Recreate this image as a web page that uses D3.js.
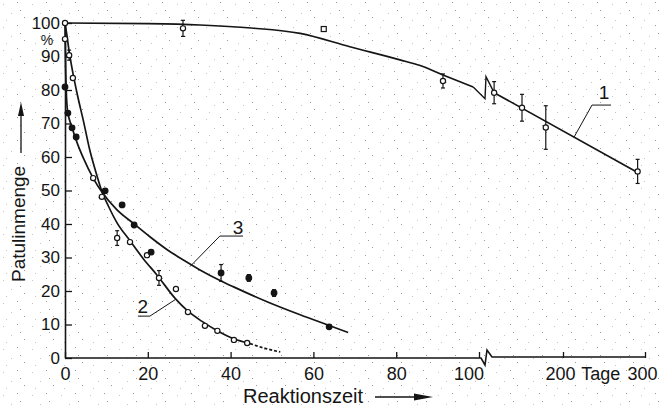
<!DOCTYPE html>
<html>
<head>
<meta charset="utf-8">
<script src="https://cdn.jsdelivr.net/npm/d3@7"></script>
<style>
  body { margin: 0; background: #fff; }
  svg { display: block; font-family: "Liberation Sans", Arial, sans-serif; }
</style>
</head>
<body>
<script>
// curve 1: first part on the 0..100 scale, second part in days after the axis break
var curve1a = [[0,100],[20,99.8],[32.6,99.4],[45,98.5],[56.8,96.9],[68.8,92.9],[80.9,89],[85.8,87.3],[91.3,84.5],[98.6,80.9]];
var curve1b = [[116,79.2],[291,55.4]];
// [x, value, error]
var points1a = [[0,100,0],[28.5,98.4,2.4],[91.3,82.7,2.1]];
var squares1a = [[62.5,98.2]];
var points1b = [[116,79.2,3.3],[150,74.7,4],[179,68.8,6.5],[291,55.7,3.6]];

// curve 2 (open circles)
var curve2 = [[0,100],[0.5,96],[1,91.5],[2,84.5],[3,78.5],[4.5,70.5],[6,62],[7.7,54.5],[9,49.4],[10.5,45.3],[12.5,40.5],[15.7,35],[19,29.5],[22.2,24.8],[26.6,17.8],[29.5,14.2],[33,11],[37,8],[40.6,5.8],[44.7,4.3]];
var curve2dash = [[44.7,4.3],[48,3],[52,1.8]];
var points2 = [[0,95.2,0],[1,90.4,1.5],[1.9,83.6,0],[6.8,53.7,0],[8.9,48.1,0],[12.6,35.8,2.2],[15.7,34.6,0],[19.8,30.7,0],[22.7,23.9,2.2],[26.8,20.6,0],[29.7,13.7,0],[33.8,9.6,0],[36.8,8.1,0],[40.8,5.4,0],[44,4.5,0]];

// curve 3 (filled circles)
var curve3 = [[0,100],[0.1,90],[0.3,80],[0.6,74],[1.7,68.8],[3,64],[4.5,59.5],[6.8,53.7],[9,49.4],[12.5,44.3],[16.5,40.2],[20.5,36.2],[24.6,32.4],[28.5,29.3],[32.6,26.3],[37.7,23],[40.6,21.3],[48.8,16.8],[56.8,12.9],[63.8,9.7],[68.4,7.6]];
var points3 = [[0,80.9,0],[0.7,73.1,0],[1.7,68.7,0],[2.7,66,0],[9.7,49.9,0],[13.8,45.7,0],[16.7,39.7,0],[20.8,31.6,0],[37.7,25.4,2.5],[44.4,23.9,1],[50.5,19.4,1],[63.8,9.3,0]];

var yTicks = d3.range(0, 101, 10);
var xTicks1 = [0, 20, 40, 60, 80];
var xTicks2 = [200, 300];

const width = 659, height = 406;
const ink = '#151515';

const svg = d3.select('body').append('svg').attr('width', width).attr('height', height);

// scanned paper stipple
const pat = svg.append('defs').append('pattern')
  .attr('id', 'stip').attr('width', 29).attr('height', 23).attr('patternUnits', 'userSpaceOnUse');
[[3,4],[17,2],[11,13],[24,17],[6,20],[20,10]].forEach(function(p, i) {
  pat.append('rect').attr('x', p[0]).attr('y', p[1]).attr('width', 1).attr('height', 1)
    .attr('fill', i % 2 ? '#9a9a9a' : '#c4c4c4');
});
svg.append('rect').attr('width', width).attr('height', height).attr('fill', 'url(#stip)');

const y = d3.scaleLinear().domain([0, 100]).range([358, 23]);
const x1 = d3.scaleLinear().domain([0, 100]).range([65, 479]);
const x2 = d3.scaleLinear().domain([100, 300]).range([481, 645]);
const y0 = y(0), bx = x1(100);

// y axis
const gy = svg.append('g').attr('transform', 'translate(' + x1(0) + ',0)')
  .call(d3.axisLeft(y).tickValues(yTicks).tickSize(-7).tickSizeOuter(0).tickPadding(5));
gy.select('.domain').attr('stroke', ink).attr('stroke-width', 1.6);
gy.selectAll('.tick line').attr('stroke', ink).attr('stroke-width', 1.3);
gy.selectAll('text').attr('font-size', 17).attr('fill', ink).attr('font-family', null);
svg.append('text').attr('x', 47).attr('y', y(95) + 5).attr('text-anchor', 'middle')
  .attr('font-size', 14).attr('fill', ink).text('%');

// x axis, part 1
const gx1 = svg.append('g').attr('transform', 'translate(0,' + y0 + ')')
  .call(d3.axisBottom(x1).tickValues(xTicks1.concat([100])).tickSize(-6).tickPadding(9)
    .tickFormat(function(d) { return d === 100 ? '' : d; }));
gx1.select('.domain').remove();
gx1.selectAll('.tick line').attr('stroke', ink).attr('stroke-width', 1.3);
gx1.selectAll('text').attr('font-size', 18).attr('fill', ink).attr('font-family', null);
svg.append('text').attr('x', bx - 10).attr('y', y0 + 22).attr('text-anchor', 'middle')
  .attr('font-size', 18).attr('fill', ink).text('100');

// x axis, part 2 (Tage)
const gx2 = svg.append('g').attr('transform', 'translate(0,' + y0 + ')')
  .call(d3.axisBottom(x2).tickValues(xTicks2).tickSize(-6).tickPadding(9));
gx2.select('.domain').remove();
gx2.selectAll('.tick line').attr('stroke', ink).attr('stroke-width', 1.3);
gx2.selectAll('text').attr('font-size', 18).attr('fill', ink).attr('font-family', null)
  .attr('transform', 'translate(-3,0)');
svg.append('text').attr('x', x2(246)).attr('y', y0 + 22).attr('text-anchor', 'middle')
  .attr('font-size', 18).attr('fill', ink).text('Tage');

// broken axis line
svg.append('path')
  .attr('d', 'M' + x1(0) + ',' + y0 + 'H' + (bx + 2) + 'L' + (bx + 6) + ',' + (y0 + 7) +
    'L' + (bx + 8) + ',' + (y0 - 8) + 'L' + (bx + 13) + ',' + (y0 - 1) + 'H' + x2(300))
  .attr('fill', 'none').attr('stroke', ink).attr('stroke-width', 1.6);

// axis titles with arrows
svg.append('text').attr('transform', 'translate(25,' + 282 + ') rotate(-90)')
  .attr('font-size', 19).attr('fill', ink).text('Patulinmenge');
svg.append('line').attr('x1', 21).attr('x2', 21).attr('y1', 153).attr('y2', 112)
  .attr('stroke', ink).attr('stroke-width', 1.3);
svg.append('path').attr('d', 'M21,102L18,116L24,116Z').attr('fill', ink);

svg.append('text').attr('x', 243).attr('y', 403).attr('font-size', 20).attr('fill', ink).text('Reaktionszeit');
svg.append('line').attr('x1', 375).attr('x2', 418).attr('y1', 397).attr('y2', 397)
  .attr('stroke', ink).attr('stroke-width', 1.3);
svg.append('path').attr('d', 'M433,397L414,393.5L414,400.5Z').attr('fill', ink);

// curves
function lineFor(xs) {
  return d3.line().x(function(d) { return xs(d[0]); }).y(function(d) { return y(d[1]); })
    .curve(d3.curveMonotoneX);
}
function drawCurve(data, xs, dash) {
  svg.append('path').datum(data).attr('d', lineFor(xs))
    .attr('fill', 'none').attr('stroke', ink).attr('stroke-width', 1.7)
    .attr('stroke-dasharray', dash || null);
}
drawCurve(curve1a, x1);
drawCurve(curve1b, x2);
drawCurve(curve2, x1);
drawCurve(curve2dash, x1, '3,2');
drawCurve(curve3, x1);

// break zigzag in curve 1
var last = curve1a[curve1a.length - 1], first = curve1b[0];
svg.append('path')
  .attr('d', d3.line()([[x1(last[0]), y(last[1])], [bx + 6, y(77.4)], [bx + 7, y(84)], [x2(first[0]), y(first[1])]]))
  .attr('fill', 'none').attr('stroke', ink).attr('stroke-width', 1.4);

// points with error bars
function drawPoints(data, xs, filled) {
  var g = svg.append('g');
  data.forEach(function(d) {
    var cx = xs(d[0]);
    if (d[2] > 0) {
      g.append('line').attr('x1', cx).attr('x2', cx).attr('y1', y(d[1] - d[2])).attr('y2', y(d[1] + d[2]))
        .attr('stroke', ink).attr('stroke-width', 1.2);
      [d[1] - d[2], d[1] + d[2]].forEach(function(v) {
        g.append('line').attr('x1', cx - 2).attr('x2', cx + 2).attr('y1', y(v)).attr('y2', y(v))
          .attr('stroke', ink).attr('stroke-width', 1.2);
      });
    }
    g.append('circle').attr('cx', cx).attr('cy', y(d[1])).attr('r', filled ? 2.8 : 2.6)
      .attr('fill', filled ? ink : '#fff').attr('stroke', ink).attr('stroke-width', 1.2);
  });
}
drawPoints(points1a, x1, false);
drawPoints(points1b, x2, false);
drawPoints(points2, x1, false);
drawPoints(points3, x1, true);
squares1a.forEach(function(d) {
  svg.append('rect').attr('x', x1(d[0]) - 2.5).attr('y', y(d[1]) - 2.5).attr('width', 5).attr('height', 5)
    .attr('fill', '#fff').attr('stroke', ink).attr('stroke-width', 1.2);
});

// curve labels with leader lines
function label(txt, xs, pos, leader) {
  svg.append('text').attr('x', xs(pos[0])).attr('y', y(pos[1])).attr('text-anchor', 'middle')
    .attr('font-size', 19).attr('fill', ink).text(txt);
  svg.append('path').attr('d', d3.line()(leader.map(function(p) { return [xs(p[0]), y(p[1])]; })))
    .attr('fill', 'none').attr('stroke', ink).attr('stroke-width', 1);
}
label('1', x2, [250, 77.3], [[258.5, 75.5], [235.4, 75.5], [213.4, 65.9]]);
label('2', x1, [18.8, 13.4], [[17.6, 12.5], [20.5, 12.5], [26.6, 17.4]]);
label('3', x1, [41.8, 37], [[43, 36.4], [37.4, 36.4], [30.2, 27.3]]);
</script>
</body>
</html>
